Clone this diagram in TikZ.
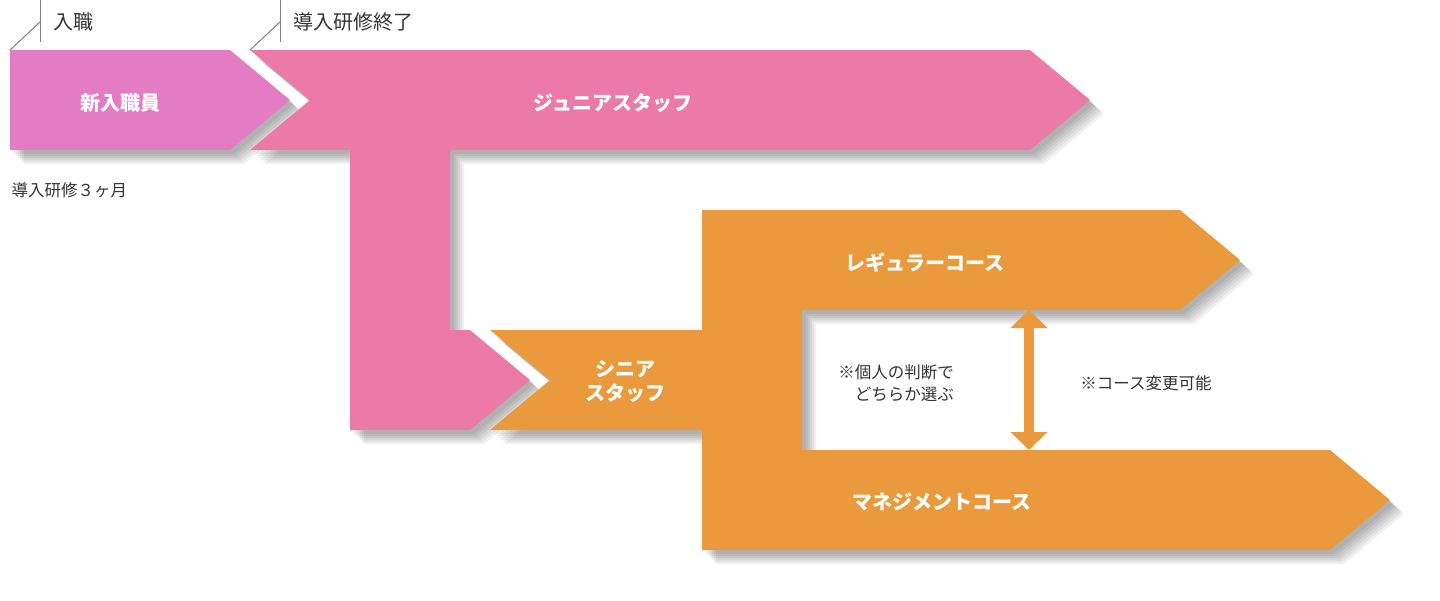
\documentclass[tikz,border=0pt]{standalone}
\usepackage{fontspec}
\setmainfont{Noto Sans CJK JP}
\usetikzlibrary{arrows.meta}
\definecolor{violetp}{HTML}{E47CC4}
\definecolor{pinkp}{HTML}{EB7AA8}
\definecolor{orangep}{HTML}{EA9A3C}
\definecolor{txt}{HTML}{333333}
\tikzset{
  wlabel/.style={text=white,font=\fontsize{20}{24}\selectfont\bfseries,align=center},
  dlabel/.style={text=txt,font=\fontsize{16.5}{22}\selectfont},
  tlabel/.style={text=txt,font=\fontsize{20}{24}\selectfont,anchor=west},
  tick/.style={draw=gray,line width=1pt},
  shad/.style={fill=black,opacity=0.06}
}
\begin{document}
\begin{tikzpicture}[x=1pt,y=-1pt]
\useasboundingbox (0,0) rectangle (1440,600);
\def\pA{(10,50) -- (230,50) -- (290,100) -- (230,150) -- (10,150) -- cycle}
\def\pB{(250,50) -- (1030,50) -- (1090,100) -- (1030,150) -- (450,150) -- (450,330) -- (470,330) -- (530,380) -- (470,430) -- (350,430) -- (350,150) -- (250,150) -- (310,100) -- cycle}
\def\pC{(490,330) -- (702,330) -- (702,210) -- (1180,210) -- (1240,260) -- (1180,310) -- (802,310) -- (802,450) -- (1330,450) -- (1390,500) -- (1330,550) -- (702,550) -- (702,430) -- (490,430) -- (550,380) -- cycle}
% shadows
\foreach \d in {4,6,8,10,12,14}{
  \fill[shad,xshift=\d pt,yshift=-\d pt] \pA;
  \fill[shad,xshift=\d pt,yshift=-\d pt] \pB;
  \fill[shad,xshift=\d pt,yshift=-\d pt] \pC;
}
\fill[violetp] \pA;
\fill[pinkp] \pB;
\fill[orangep] \pC;
% ticks
\coordinate (t1a) at (10,50); \coordinate (t1b) at (40,22); \coordinate (t1c) at (40,0); \coordinate (t1d) at (40,42);
\coordinate (t2a) at (250,50); \coordinate (t2b) at (280,22); \coordinate (t2c) at (280,0); \coordinate (t2d) at (280,42);
\draw[tick] (t1a) -- (t1b); \draw[tick] (t1c) -- (t1d);
\draw[tick] (t2a) -- (t2b); \draw[tick] (t2c) -- (t2d);
\node[tlabel] (n1) at (50,22) {入職};
\node[tlabel] (n2) at (290,22) {導入研修終了};
\node[dlabel,anchor=west] (n3) at (8,190) {導入研修３ヶ月};
% labels
\node[wlabel] (a) at (120,103) {新入職員};
\node[wlabel] (b) at (613,103) {ジュニアスタッフ};
\node[wlabel] (c) at (625,381) {シニア\\スタッフ};
\node[wlabel] (d) at (925,263) {レギュラーコース};
\node[wlabel] (e) at (942,502) {マネジメントコース};
\node[dlabel,align=right] (f) at (896,383) {※個人の判断で\\どちらか選ぶ};
\node[dlabel] (g) at (1146,383) {※コース変更可能};
% double arrow
\coordinate (u) at (1029,310); \coordinate (v) at (1029,450);
\draw[orangep,line width=10pt,{Triangle[width=36pt,length=18pt]}-{Triangle[width=36pt,length=18pt]}] (u) -- (v);
\end{tikzpicture}
\end{document}
